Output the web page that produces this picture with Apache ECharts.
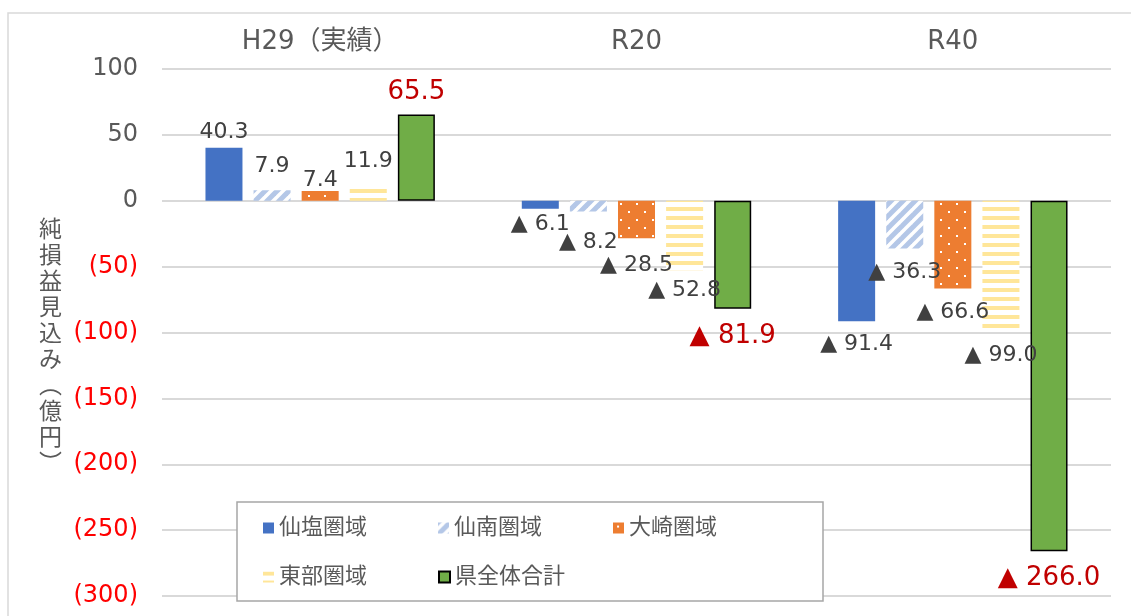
<!DOCTYPE html>
<html>
<head>
<meta charset="utf-8">
<script src="https://cdn.jsdelivr.net/npm/echarts@6/dist/echarts.min.js"></script>
<style>
  html, body { margin: 0; padding: 0; background: #fff; }
  #chart { width: 1131px; height: 616px; }
</style>
</head>
<body>
<div id="chart"></div>
<script>
// 区分
var categories = ['H29（実績）', 'R20', 'R40'];
var seriesNames = ['仙塩圏域', '仙南圏域', '大崎圏域', '東部圏域', '県全体合計'];
// 純損益見込み（億円）
var senen = [40.3, -6.1, -91.4];
var sennan = [7.9, -8.2, -36.3];
var osaki = [7.4, -28.5, -66.6];
var tobu = [11.9, -52.8, -99.0];
var total = [65.5, -81.9, -266.0];
// 縦軸
var yMin = -300, yMax = 100, yStep = 50;
var yAxisTitle = '純損益見込み︵億円︶';

var FONT = "'DejaVu Sans', 'Noto Sans CJK JP', sans-serif";
var GREY = '#595959';

// ラベルとバーの間隔（元の図で手動配置されている分）
var labelGap = [
  [4.5, 4, 12.5],
  [13, 19.5, 12.5],
  [0, 16, 12.5],
  [12.5, 9, 13],
  [9, 15, 14.5]
];

// パターン作成
function tile(w, h, draw) {
  var c = document.createElement('canvas');
  c.width = w; c.height = h;
  var ctx = c.getContext('2d');
  draw(ctx, w, h);
  return { image: c, repeat: 'repeat' };
}
var hatchBlue = tile(12, 12, function (ctx, w, h) {
  ctx.fillStyle = '#ffffff';
  ctx.fillRect(0, 0, w, h);
  ctx.strokeStyle = '#B4C7E7';
  ctx.lineWidth = 5;
  [-12, 0, 12, 24].forEach(function (c) {
    ctx.beginPath();
    ctx.moveTo(c + 3, -3);
    ctx.lineTo(c - 15, 15);
    ctx.stroke();
  });
});
var dotOrange = tile(16, 16, function (ctx, w, h) {
  ctx.fillStyle = '#ED7D31';
  ctx.fillRect(0, 0, w, h);
  ctx.fillStyle = '#ffffff';
  ctx.fillRect(4, 3, 2, 2);
  ctx.fillRect(12, 11, 2, 2);
});
var stripeYellow = tile(9, 9, function (ctx, w, h) {
  ctx.fillStyle = '#ffffff';
  ctx.fillRect(0, 0, w, h);
  ctx.fillStyle = '#FFE699';
  ctx.fillRect(0, 0, w, 4);
});

function fmt(v) {
  return v < 0 ? '▲ ' + Math.abs(v).toFixed(1) : v.toFixed(1);
}

function barSeries(idx, values, color, extra) {
  var s = {
    name: seriesNames[idx],
    type: 'bar',
    data: values.map(function (v, i) {
      return { value: v, label: { distance: labelGap[idx][i] } };
    }),
    barWidth: 37,
    barGap: '30%',
    itemStyle: { color: color },
    label: {
      show: true,
      position: 'outside',
      formatter: function (p) { return fmt(p.value); },
      color: '#404040',
      fontSize: 22,
      fontFamily: FONT
    }
  };
  if (extra) extra(s);
  return s;
}

var series = [
  barSeries(0, senen, '#4472C4'),
  barSeries(1, sennan, hatchBlue),
  barSeries(2, osaki, dotOrange),
  barSeries(3, tobu, stripeYellow),
  barSeries(4, total, '#70AD47', function (s) {
    s.itemStyle.borderColor = '#000000';
    s.itemStyle.borderWidth = 1.5;
    s.label.color = '#C00000';
    s.label.fontSize = 26;
  })
];

var legendText = { color: GREY, fontSize: 22, fontFamily: FONT };

var option = {
  backgroundColor: '#ffffff',
  animation: false,
  graphic: [{
    type: 'rect',
    shape: { x: 8, y: 13, width: 1200, height: 700 },
    style: { fill: 'none', stroke: '#D9D9D9', lineWidth: 1.5 },
    silent: true
  }],
  grid: { left: 162, right: 20, top: 69, bottom: 20 },
  legend: [{
    data: seriesNames.slice(0, 3),
    left: 237,
    top: 502,
    orient: 'horizontal',
    icon: 'rect',
    itemWidth: 11,
    itemHeight: 11,
    itemGap: 71,
    padding: [15, 106, 62, 26],
    backgroundColor: '#ffffff',
    borderColor: '#A6A6A6',
    borderWidth: 1.5,
    textStyle: legendText
  }, {
    data: seriesNames.slice(3),
    left: 263,
    top: 566,
    z: 5,
    orient: 'horizontal',
    icon: 'rect',
    itemWidth: 11,
    itemHeight: 11,
    itemGap: 71,
    padding: 0,
    textStyle: legendText
  }],
  xAxis: {
    type: 'category',
    position: 'top',
    data: categories,
    axisLine: { show: false },
    axisTick: { show: false },
    axisLabel: { color: GREY, fontSize: 26, fontFamily: FONT, margin: 14 }
  },
  yAxis: {
    type: 'value',
    min: yMin,
    max: yMax,
    interval: yStep,
    // 先頭の空行で縦書きタイトルを少し下げる
    name: '\n' + yAxisTitle.split('').join('\n'),
    nameLocation: 'middle',
    nameRotate: 0,
    nameGap: 100,
    nameTextStyle: {
      color: GREY, fontSize: 23, lineHeight: 26,
      fontFamily: "'Noto Sans CJK JP', sans-serif"
    },
    axisLine: { show: false },
    axisTick: { show: false },
    splitLine: { lineStyle: { color: '#D9D9D9', width: 2 } },
    axisLabel: {
      margin: 24,
      fontSize: 24,
      fontFamily: FONT,
      formatter: function (v) {
        return v < 0 ? '{neg|(' + Math.abs(v) + ')}' : '{pos|' + v + '}';
      },
      rich: {
        pos: { color: GREY, fontSize: 24, fontFamily: FONT },
        neg: { color: '#FF0000', fontSize: 24, fontFamily: FONT }
      }
    }
  },
  series: series
};

var chart = echarts.init(document.getElementById('chart'));
chart.setOption(option);
</script>
</body>
</html>
